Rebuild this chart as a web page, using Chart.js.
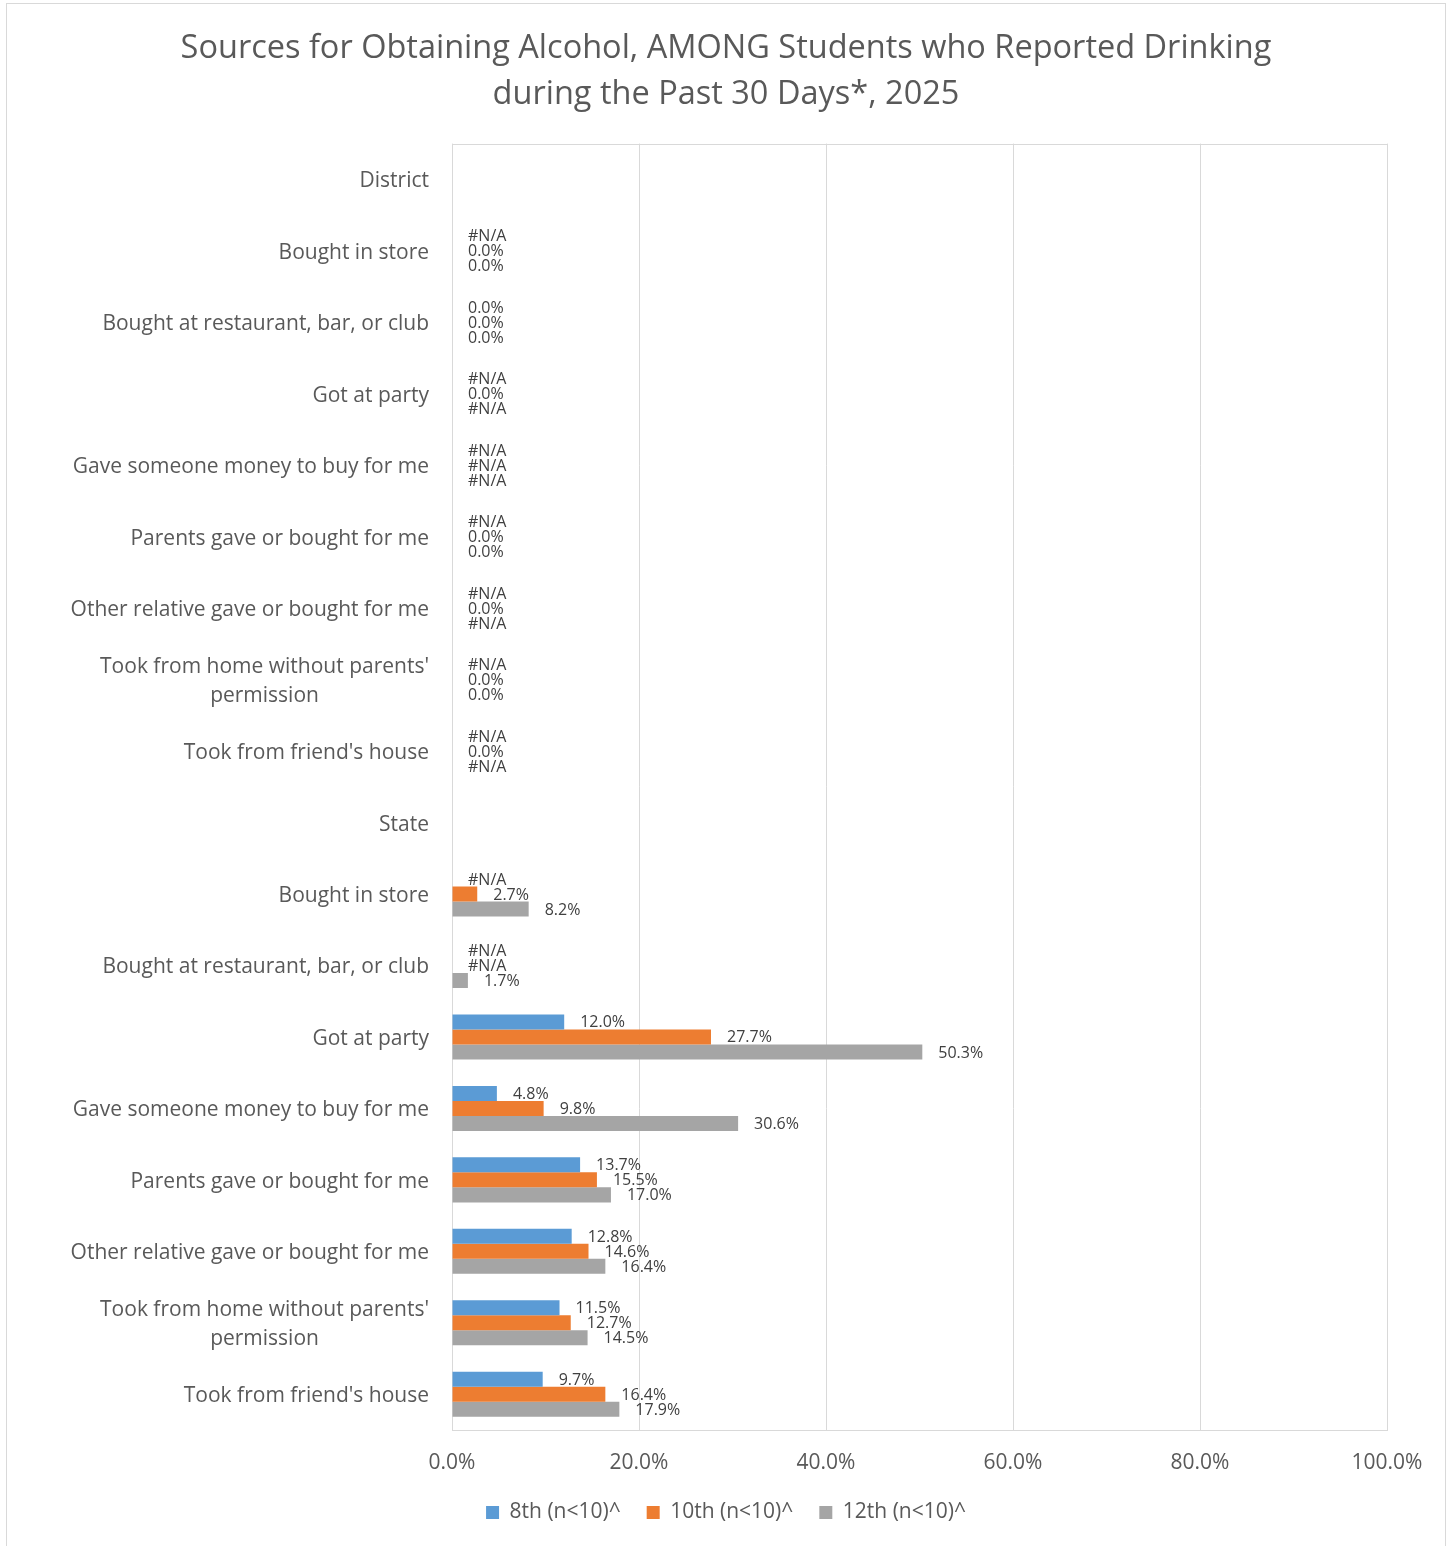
<!DOCTYPE html>
<html>
<head>
<meta charset="utf-8">
<script src="https://cdn.jsdelivr.net/npm/chart.js@4.4.1/dist/chart.umd.min.js"></script>
<style>
  html, body { margin: 0; padding: 0; background: #fff; }
  #wrap { width: 1452px; height: 1546px; }
</style>
</head>
<body>
<div id="wrap"><canvas id="mycanvas"></canvas></div>
<script>
// categories, top to bottom ('' in a series = header row, null = #N/A)
var categories = [
  'District',
  'Bought in store',
  'Bought at restaurant, bar, or club',
  'Got at party',
  'Gave someone money to buy for me',
  'Parents gave or bought for me',
  'Other relative gave or bought for me',
  ["Took from home without parents'", 'permission'],
  "Took from friend's house",
  'State',
  'Bought in store',
  'Bought at restaurant, bar, or club',
  'Got at party',
  'Gave someone money to buy for me',
  'Parents gave or bought for me',
  'Other relative gave or bought for me',
  ["Took from home without parents'", 'permission'],
  "Took from friend's house"
];

var grade8  = ['', null, 0.0, null, null, null, null, null, null,
               '', null, null, 12.0, 4.8, 13.7, 12.8, 11.5, 9.7];
var grade10 = ['', 0.0, 0.0, 0.0, null, 0.0, 0.0, 0.0, 0.0,
               '', 2.7, null, 27.7, 9.8, 15.5, 14.6, 12.7, 16.4];
var grade12 = ['', 0.0, 0.0, null, null, 0.0, null, 0.0, null,
               '', 8.2, 1.7, 50.3, 30.6, 17.0, 16.4, 14.5, 17.9];

var seriesNames = ['8th (n<10)^', '10th (n<10)^', '12th (n<10)^'];
var xTicks = [0, 20, 40, 60, 80, 100];

var textColor = '#595959';
var fontName = "'Open Sans', 'Noto Sans', sans-serif";

function toNum(arr) {
  return arr.map(function(v) { return typeof v === 'number' ? v : null; });
}

// value labels next to each bar, "#N/A" where no value
var valueLabels = {
  id: 'valueLabels',
  afterDatasetsDraw: function(chart) {
    var ctx = chart.ctx;
    var xs = chart.scales.x;
    var raw = [grade8, grade10, grade12];
    ctx.save();
    ctx.font = '16px ' + fontName;
    ctx.fillStyle = '#404040';
    ctx.textAlign = 'left';
    ctx.textBaseline = 'middle';
    chart.data.datasets.forEach(function(ds, d) {
      var meta = chart.getDatasetMeta(d);
      meta.data.forEach(function(bar, i) {
        var v = raw[d][i];
        if (v === '') return;
        var txt = v === null ? '#N/A' : v.toFixed(1) + '%';
        var x = xs.getPixelForValue(v === null ? 0 : v) + 16;
        ctx.fillText(txt, x, bar.y + 1);
      });
    });
    ctx.restore();
  }
};

// category labels: block right-aligned, wrapped lines centred on each other
var catLabels = {
  id: 'catLabels',
  afterDraw: function(chart) {
    var ctx = chart.ctx;
    var ys = chart.scales.y;
    var right = chart.chartArea.left - 23;
    var lh = 29;
    ctx.save();
    ctx.font = '21px ' + fontName;
    ctx.fillStyle = textColor;
    ctx.textAlign = 'center';
    ctx.textBaseline = 'middle';
    categories.forEach(function(c, i) {
      var lines = Array.isArray(c) ? c : [c];
      var w = 0;
      lines.forEach(function(l) { w = Math.max(w, ctx.measureText(l).width); });
      var cy = ys.getPixelForValue(i) + 2;
      var y0 = cy - (lines.length - 1) * lh / 2;
      lines.forEach(function(l, k) {
        ctx.fillText(l, right - w / 2, y0 + k * lh);
      });
    });
    ctx.restore();
  }
};

// outer chart border and plot area box
var frames = {
  id: 'frames',
  beforeDraw: function(chart) {
    var ctx = chart.ctx, a = chart.chartArea;
    ctx.save();
    ctx.strokeStyle = '#d9d9d9';
    ctx.lineWidth = 1;
    ctx.strokeRect(6.5, 3.5, 1439, 1600);
    ctx.strokeRect(Math.round(a.left) + 0.5, Math.round(a.top) + 0.5,
                   Math.round(a.right - a.left), Math.round(a.bottom - a.top));
    ctx.restore();
  }
};

var chartdata = {
  labels: categories,
  datasets: [
    { label: seriesNames[0], data: toNum(grade8),  backgroundColor: '#5B9BD5' },
    { label: seriesNames[1], data: toNum(grade10), backgroundColor: '#ED7D31' },
    { label: seriesNames[2], data: toNum(grade12), backgroundColor: '#A5A5A5' }
  ]
};

var ctx = document.getElementById('mycanvas');

var barGraph = new Chart(ctx, {
  type: 'bar',
  data: chartdata,
  plugins: [frames, valueLabels, catLabels],
  options: {
    indexAxis: 'y',
    responsive: true,
    maintainAspectRatio: false,
    animation: false,
    categoryPercentage: 0.63,
    barPercentage: 1.0,
    layout: { padding: { left: 65, right: 65, top: 0, bottom: 13 } },
    plugins: {
      tooltip: { enabled: false },
      title: {
        display: true,
        text: ['Sources for Obtaining Alcohol, AMONG Students who Reported Drinking',
               'during the Past 30 Days*, 2025'],
        color: textColor,
        font: { family: fontName, size: 32.5, weight: 'normal', lineHeight: 1.44 },
        padding: { top: 25, bottom: 25 }
      },
      legend: {
        position: 'bottom',
        labels: {
          color: textColor,
          font: { family: fontName, size: 21 },
          boxWidth: 13,
          boxHeight: 13,
          padding: 26
        }
      }
    },
    scales: {
      x: {
        min: 0,
        max: 100,
        afterBuildTicks: function(scale) {
          scale.ticks = xTicks.map(function(v) { return { value: v }; });
        },
        afterFit: function(scale) { scale.height = 46; },
        grid: { color: '#d9d9d9', drawTicks: false },
        border: { color: '#d9d9d9' },
        ticks: {
          color: textColor,
          font: { family: fontName, size: 21 },
          padding: 20,
          callback: function(v) { return Number(v).toFixed(1) + '%'; }
        }
      },
      y: {
        afterFit: function(scale) { scale.width = 452 - 65; },
        grid: { display: false, drawTicks: false },
        border: { display: false },
        ticks: { display: false }
      }
    }
  }
});
</script>
</body>
</html>
